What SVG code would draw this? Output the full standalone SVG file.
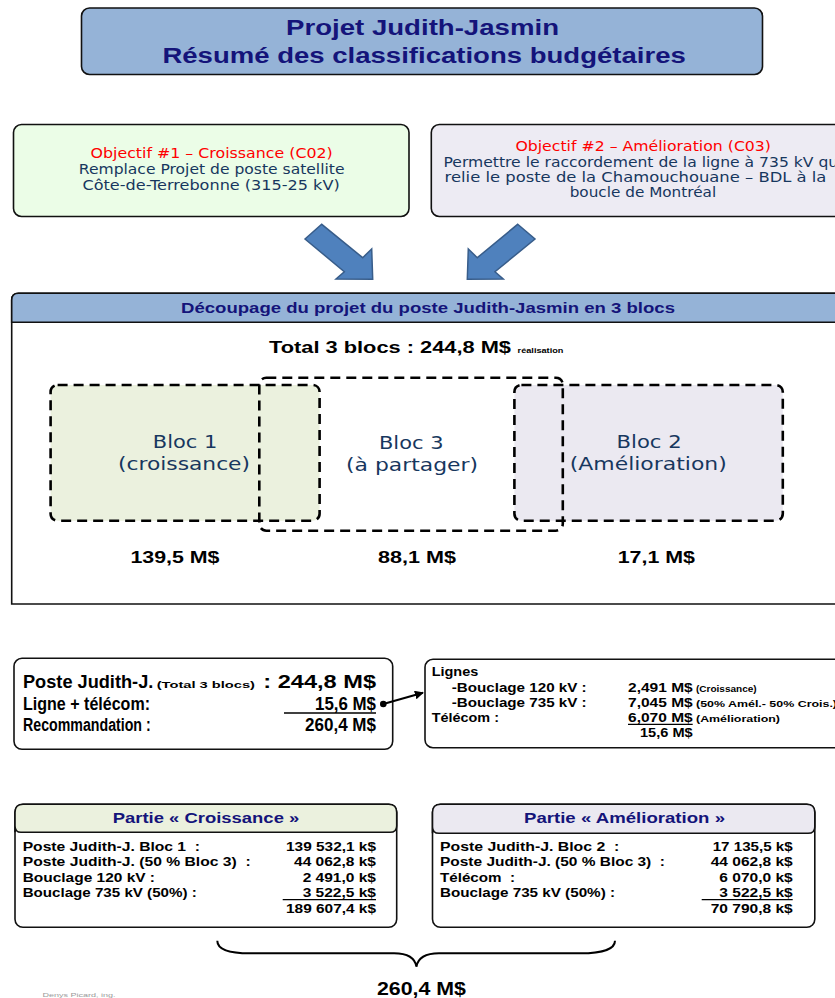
<svg xmlns="http://www.w3.org/2000/svg" width="835" height="998" viewBox="0 0 835 998">
<style>
.b{font-family:"Liberation Sans",Arial,sans-serif;font-weight:bold;white-space:pre}
.h{font-family:"DejaVu Sans",Tahoma,sans-serif;white-space:pre}
.navy{fill:#14147a}
.dk{fill:#17375e}
.red{fill:#ff0000}
.box{stroke:#111;stroke-width:1.6}
.dash{fill:none;stroke:#000;stroke-width:2.6;stroke-dasharray:10 6}
.ul{stroke:#000;stroke-width:1.3}
.arr{fill:#4f81bd;stroke:#385d8a;stroke-width:1.5;stroke-linejoin:miter}
</style>
<defs>
<marker id="ah" viewBox="0 0 10 10" refX="9" refY="5" markerWidth="9" markerHeight="9" markerUnits="userSpaceOnUse" orient="auto">
<path d="M0,0 L10,5 L0,10 Z" fill="#000"/>
</marker>
</defs>
<rect width="835" height="998" fill="#fff"/>

<g id="title">
<rect x="81.5" y="8" width="681" height="66.5" rx="8" fill="#95b3d7" class="box"/>
<text class="b navy" x="286" y="35" font-size="22.5" textLength="273" lengthAdjust="spacingAndGlyphs">Projet Judith-Jasmin</text>
<text class="b navy" x="162.4" y="63.3" font-size="22.5" textLength="523.4" lengthAdjust="spacingAndGlyphs">Résumé des classifications budgétaires</text>
</g>

<g id="objectif1">
<rect x="13.5" y="124.5" width="395.5" height="92" rx="8" fill="#ebfde7" class="box"/>
<text class="h red" x="90.5" y="158" font-size="13.5" textLength="242.3" lengthAdjust="spacingAndGlyphs">Objectif #1 – Croissance (C02)</text>
<text class="h dk" x="78.8" y="174" font-size="13.5" textLength="265.7" lengthAdjust="spacingAndGlyphs">Remplace Projet de poste satellite</text>
<text class="h dk" x="82.5" y="189.5" font-size="13.5" textLength="257.2" lengthAdjust="spacingAndGlyphs">Côte-de-Terrebonne (315-25 kV)</text>
</g>

<g id="objectif2">
<rect x="431.3" y="124.5" width="420" height="92" rx="8" fill="#edebf3" class="box"/>
<text class="h red" x="515.4" y="150.5" font-size="13.5" textLength="255.6" lengthAdjust="spacingAndGlyphs">Objectif #2 – Amélioration (C03)</text>
<text class="h dk" x="443.5" y="166.5" font-size="13.5" textLength="399" lengthAdjust="spacingAndGlyphs">Permettre le raccordement de la ligne à 735 kV qui</text>
<text class="h dk" x="444.6" y="182" font-size="13.5" textLength="381.8" lengthAdjust="spacingAndGlyphs">relie le poste de la Chamouchouane – BDL à la</text>
<text class="h dk" x="569.7" y="196.5" font-size="13.5" textLength="146.5" lengthAdjust="spacingAndGlyphs">boucle de Montréal</text>
</g>

<g id="decoupage">
<path d="M11.7,604 L11.7,300 Q11.7,293.3 18.5,293.3 L845,293.3 L845,604 Z" fill="#fff" class="box"/>
<path d="M11.7,322.3 L11.7,300 Q11.7,293.3 18.5,293.3 L845,293.3 L845,322.3 Z" fill="#95b3d7" class="box"/>
<text class="b navy" x="181" y="312.7" font-size="15" textLength="494" lengthAdjust="spacingAndGlyphs">Découpage du projet du poste Judith-Jasmin en 3 blocs</text>
<text class="b" x="269" y="353.3" font-size="16.5" textLength="242" lengthAdjust="spacingAndGlyphs">Total 3 blocs : 244,8 M$</text>
<text class="b" x="517.6" y="353.3" font-size="7" textLength="45.8" lengthAdjust="spacingAndGlyphs" font-weight="normal">réalisation</text>
</g>

<g id="bloc-fills">
<rect x="50.6" y="385" width="269" height="135.7" rx="7" fill="#ebf1de"/>
<rect x="514.4" y="385" width="268.4" height="135.7" rx="7" fill="#ebe9f1"/>
</g>

<g id="bloc1">
<rect x="50.6" y="385" width="269" height="135.7" rx="7" class="dash"/>
<text class="h dk" x="152.8" y="448.3" font-size="18" textLength="64.5" lengthAdjust="spacingAndGlyphs">Bloc 1</text>
<text class="h dk" x="118" y="470" font-size="18" textLength="132" lengthAdjust="spacingAndGlyphs">(croissance)</text>
<text class="b" x="130.5" y="562.7" font-size="17" textLength="89" lengthAdjust="spacingAndGlyphs">139,5 M$</text>
</g>

<g id="bloc3">
<rect x="259.3" y="377.7" width="303.5" height="153" rx="7" class="dash"/>
<text class="h dk" x="379" y="449.3" font-size="18" textLength="64.5" lengthAdjust="spacingAndGlyphs">Bloc 3</text>
<text class="h dk" x="346" y="471" font-size="18" textLength="132" lengthAdjust="spacingAndGlyphs">(à partager)</text>
<text class="b" x="378" y="562.7" font-size="17" textLength="78" lengthAdjust="spacingAndGlyphs">88,1 M$</text>
</g>

<g id="bloc2">
<rect x="514.4" y="385" width="268.4" height="135.7" rx="7" class="dash"/>
<text class="h dk" x="616.6" y="448.3" font-size="18" textLength="65" lengthAdjust="spacingAndGlyphs">Bloc 2</text>
<text class="h dk" x="569.8" y="470" font-size="18" textLength="157" lengthAdjust="spacingAndGlyphs">(Amélioration)</text>
<text class="b" x="617.7" y="562.7" font-size="17" textLength="77.3" lengthAdjust="spacingAndGlyphs">17,1 M$</text>
</g>

<g id="resume">
<rect x="14" y="658.3" width="378.7" height="91" rx="8" fill="#fff" class="box"/>
<text class="b" x="23" y="688.3" font-size="17.5" textLength="130.3" lengthAdjust="spacingAndGlyphs">Poste Judith-J.</text>
<text class="b" x="156.7" y="688.3" font-size="9" textLength="98.3" lengthAdjust="spacingAndGlyphs">(Total 3 blocs)</text>
<text class="b" x="263.3" y="688.3" font-size="17.5" textLength="112.7" lengthAdjust="spacingAndGlyphs">: 244,8 M$</text>
<text class="b" x="23" y="709.8" font-size="17.5" textLength="127" lengthAdjust="spacingAndGlyphs" font-weight="normal">Ligne + télécom:</text>
<text class="b" x="315" y="709.8" font-size="17.5" textLength="61" lengthAdjust="spacingAndGlyphs" font-weight="normal">15,6 M$</text>
<line x1="284" y1="713" x2="376" y2="713" class="ul"/>
<text class="b" x="23" y="731" font-size="17.5" textLength="127.7" lengthAdjust="spacingAndGlyphs">Recommandation :</text>
<text class="b" x="305" y="731" font-size="17.5" textLength="71" lengthAdjust="spacingAndGlyphs">260,4 M$</text>
</g>

<g id="lignes">
<rect x="425" y="659.3" width="430" height="88.4" rx="8" fill="#fff" class="box"/>
<text class="b" x="431.7" y="676" font-size="13" textLength="46.6" lengthAdjust="spacingAndGlyphs">Lignes</text>
<text class="b" x="451.7" y="691.7" font-size="13" textLength="135" lengthAdjust="spacingAndGlyphs">-Bouclage 120 kV :</text>
<text class="b" x="628" y="691.7" font-size="13" textLength="64.7" lengthAdjust="spacingAndGlyphs">2,491 M$</text>
<text class="b" x="696" y="691.7" font-size="9" textLength="60.7" lengthAdjust="spacingAndGlyphs">(Croissance)</text>
<text class="b" x="451.7" y="706.5" font-size="13" textLength="135" lengthAdjust="spacingAndGlyphs">-Bouclage 735 kV :</text>
<text class="b" x="628" y="706.5" font-size="13" textLength="64.7" lengthAdjust="spacingAndGlyphs">7,045 M$</text>
<text class="b" x="696" y="706.5" font-size="9" textLength="141" lengthAdjust="spacingAndGlyphs">(50% Amél.- 50% Crois.)</text>
<text class="b" x="431.7" y="721.5" font-size="13" textLength="67.3" lengthAdjust="spacingAndGlyphs">Télécom :</text>
<text class="b" x="628" y="721.5" font-size="13" textLength="64.7" lengthAdjust="spacingAndGlyphs">6,070 M$</text>
<line x1="628" y1="724.3" x2="692.7" y2="724.3" class="ul"/>
<text class="b" x="696" y="721.5" font-size="9" textLength="84" lengthAdjust="spacingAndGlyphs">(Amélioration)</text>
<text class="b" x="640" y="737" font-size="13" textLength="52.7" lengthAdjust="spacingAndGlyphs">15,6 M$</text>
</g>

<g id="partie-croissance">
<rect x="15" y="804.3" width="381.7" height="123" rx="8" fill="#fff" class="box"/>
<path d="M15,832.3 L15,812.3 Q15,804.3 23,804.3 L388.7,804.3 Q396.7,804.3 396.7,812.3 L396.7,826 Q396.7,832.3 390,832.3 L21,832.3 Q15,832.3 15,826" fill="#ebf1de" class="box"/>
<text class="b navy" x="112.7" y="823.3" font-size="14.5" textLength="186.6" lengthAdjust="spacingAndGlyphs">Partie « Croissance »</text>
<text class="b" x="22.7" y="850.5" font-size="12" textLength="177.3" lengthAdjust="spacingAndGlyphs">Poste Judith-J. Bloc 1  :</text>
<text class="b" x="286" y="850.5" font-size="12" textLength="90" lengthAdjust="spacingAndGlyphs">139 532,1 k$</text>
<text class="b" x="22.7" y="866" font-size="12" textLength="228" lengthAdjust="spacingAndGlyphs">Poste Judith-J. (50 % Bloc 3)  :</text>
<text class="b" x="294" y="866" font-size="12" textLength="82" lengthAdjust="spacingAndGlyphs">44 062,8 k$</text>
<text class="b" x="22.7" y="881.5" font-size="12" textLength="132.3" lengthAdjust="spacingAndGlyphs">Bouclage 120 kV :</text>
<text class="b" x="302.7" y="881.5" font-size="12" textLength="73.3" lengthAdjust="spacingAndGlyphs">2 491,0 k$</text>
<text class="b" x="22.7" y="897" font-size="12" textLength="174" lengthAdjust="spacingAndGlyphs">Bouclage 735 kV (50%) :</text>
<text class="b" x="302.7" y="897" font-size="12" textLength="73.3" lengthAdjust="spacingAndGlyphs">3 522,5 k$</text>
<line x1="282.7" y1="899.6" x2="376" y2="899.6" class="ul"/>
<text class="b" x="286" y="913" font-size="12" textLength="90" lengthAdjust="spacingAndGlyphs">189 607,4 k$</text>
</g>

<g id="partie-amelioration">
<rect x="432.5" y="804.3" width="382.3" height="123" rx="8" fill="#fff" class="box"/>
<path d="M432.5,833.3 L432.5,812.3 Q432.5,804.3 440.5,804.3 L806.8,804.3 Q814.8,804.3 814.8,812.3 L814.8,827 Q814.8,833.3 808,833.3 L439,833.3 Q432.5,833.3 432.5,827" fill="#ebe9f1" class="box"/>
<text class="b navy" x="524" y="823.3" font-size="14.5" textLength="201" lengthAdjust="spacingAndGlyphs">Partie « Amélioration »</text>
<text class="b" x="440" y="850.5" font-size="12" textLength="179.3" lengthAdjust="spacingAndGlyphs">Poste Judith-J. Bloc 2  :</text>
<text class="b" x="712.7" y="850.5" font-size="12" textLength="80" lengthAdjust="spacingAndGlyphs">17 135,5 k$</text>
<text class="b" x="440" y="866" font-size="12" textLength="225" lengthAdjust="spacingAndGlyphs">Poste Judith-J. (50 % Bloc 3)  :</text>
<text class="b" x="710.7" y="866" font-size="12" textLength="82" lengthAdjust="spacingAndGlyphs">44 062,8 k$</text>
<text class="b" x="440" y="881.5" font-size="12" textLength="75" lengthAdjust="spacingAndGlyphs">Télécom  :</text>
<text class="b" x="719.3" y="881.5" font-size="12" textLength="73.4" lengthAdjust="spacingAndGlyphs">6 070,0 k$</text>
<text class="b" x="440" y="897" font-size="12" textLength="175" lengthAdjust="spacingAndGlyphs">Bouclage 735 kV (50%) :</text>
<text class="b" x="719.3" y="897" font-size="12" textLength="73.4" lengthAdjust="spacingAndGlyphs">3 522,5 k$</text>
<line x1="701.7" y1="899.6" x2="792.7" y2="899.6" class="ul"/>
<text class="b" x="710.7" y="913" font-size="12" textLength="82" lengthAdjust="spacingAndGlyphs">70 790,8 k$</text>
</g>

<g id="total">
<text class="b" x="377" y="995" font-size="17.5" textLength="89" lengthAdjust="spacingAndGlyphs">260,4 M$</text>
</g>

<g id="signature">
<text x="42.6" y="996.5" font-family="Liberation Sans, Arial, sans-serif" font-size="6" fill="#999" textLength="73" lengthAdjust="spacingAndGlyphs">Denys Picard, ing.</text>
</g>

<g id="connectors">
<polygon class="arr" points="305,239 321.7,224.3 362.7,257.7 371.7,249 372.7,279.3 336,279 344.3,271.7"/>
<polygon class="arr" points="517.7,224.3 535,239 495,271.7 503.3,279 467.3,279.3 468.3,249 477.3,257.7"/>
<circle cx="383.3" cy="704" r="3.3" fill="#000"/>
<line x1="383.3" y1="704" x2="423" y2="692.8" stroke="#000" stroke-width="2" marker-end="url(#ah)"/>
<path d="M217.3,940.7 C217.3,949 228,953.3 250,953.3 L394,953.3 C408,953.3 415,958 416.4,966.7 C418,958 425,953.3 439,953.3 L580.4,953.3 C602,953.3 615,949 615,940.7" fill="none" stroke="#000" stroke-width="2"/>
</g>
</svg>
